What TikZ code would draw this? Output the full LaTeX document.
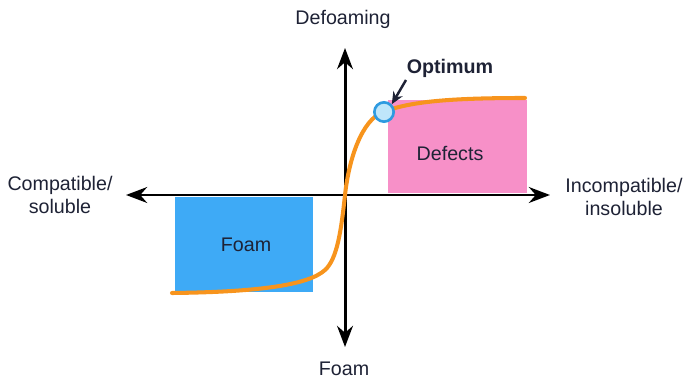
\documentclass[tikz,border=0pt]{standalone}
\usepackage{fontspec}
\setmainfont{Liberation Sans}
\usetikzlibrary{arrows.meta}
\definecolor{foamblue}{HTML}{3EAAF6}
\definecolor{defpink}{HTML}{F790C8}
\definecolor{curveor}{HTML}{F7941D}
\definecolor{txt}{HTML}{1E2235}
\definecolor{optfill}{HTML}{BFE6FA}
\definecolor{optedge}{HTML}{2E9AE0}
\tikzset{
  axis/.style={line width=1.7pt, -{Stealth[length=12pt,width=9pt]}},
  lbl/.style={font=\fontsize{11.2}{13.5}\selectfont, text=txt, align=center, inner sep=1pt},
  curve/.style={line width=2.3pt, curveor, line cap=round},
}
\begin{document}
\begin{tikzpicture}[x=0.02cm, y=-0.02cm]
\useasboundingbox (0,0) rectangle (685,381);
% regions
\fill[foamblue] (175,197) rectangle (313,292);
\fill[defpink] (388,100) rectangle (527,193);
\node[lbl] (foamr) at (246,245) {Foam};
\node[lbl] (defr) at (450,153) {Defects};
% axes
\coordinate (o) at (345,195);
\coordinate (xl) at (126,195);
\coordinate (xr) at (550,195);
\coordinate (yt) at (345,48);
\coordinate (yb) at (345,347);
\draw[axis] (o) -- (xl);
\draw[axis] (o) -- (xr);
\draw[axis] (o) -- (yt);
\draw[axis] (o) -- (yb);
% axis labels
\node[lbl] (def) at (343,19) {Defoaming};
\node[lbl] (foam) at (344,369) {Foam};
\node[lbl] (comp) at (60,195) {Compatible/\\soluble};
\node[lbl] (incomp) at (624,197) {Incompatible/\\insoluble};
% curve
\draw[curve] (172,293) .. controls (260,292) and (309,284.7) .. (325,270)
  .. controls (337,259) and (341,232) .. (345,195)
  .. controls (349,158) and (362,120) .. (383,112)
  .. controls (410,101.5) and (450,98) .. (525,98);
% optimum
\node[circle, draw=optedge, fill=optfill, line width=1.5pt, minimum size=11pt, inner sep=0pt] (opt) at (384,112) {};
\node[lbl, font=\fontsize{11.2}{13.5}\selectfont\bfseries] (optl) at (450,68) {Optimum};
\coordinate (arrs) at (406,80);
\draw[line width=1.4pt, txt, -{Stealth[length=7pt,width=6pt]}] (arrs) -- (opt.north east);
\end{tikzpicture}
\end{document}
